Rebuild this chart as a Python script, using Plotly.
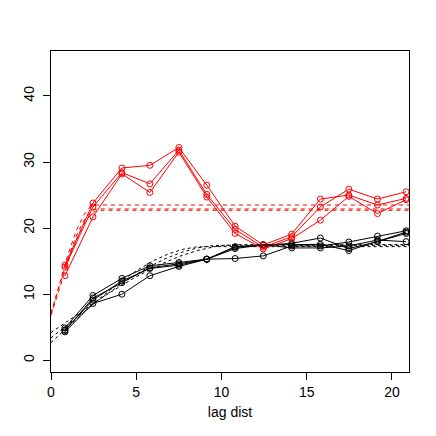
import numpy as np
import plotly.graph_objects as go

# lag distances of the sample variogram bins
lags = [0.82, 2.46, 4.16, 5.8, 7.5, 9.14, 10.8, 12.45, 14.12, 15.8, 17.47, 19.15, 20.83]

# sample semivariances, red group
red_1 = [14.4, 23.8, 29.1, 29.5, 32.2, 26.5, 20.3, 17.45, 19.1, 24.4, 25.0, 23.5, 24.5]
red_2 = [14.1, 23.2, 28.4, 26.7, 31.8, 25.1, 19.8, 17.1, 18.7, 23.2, 25.9, 24.4, 25.5]
red_3 = [12.8, 21.7, 28.2, 25.4, 31.5, 24.7, 19.2, 16.85, 18.4, 21.2, 24.8, 22.2, 24.3]

# sample semivariances, black group
black_1 = [4.3, 8.6, 10.0, 12.8, 14.2, 15.3, 15.4, 15.8, 17.3, 17.3, 17.9, 18.8, 19.6]
black_2 = [4.6, 9.1, 12.0, 13.9, 14.4, 15.3, 17.1, 17.4, 17.7, 18.5, 16.9, 17.95, 19.2]
black_3 = [4.9, 9.8, 12.4, 14.3, 14.8, 15.3, 16.9, 17.5, 17.0, 17.0, 17.3, 18.2, 17.95]
black_4 = [4.5, 9.4, 11.75, 14.0, 14.6, 15.3, 17.2, 17.45, 17.5, 17.55, 16.6, 18.0, 19.4]

# fitted spherical models: nugget, total sill, range
red_models = [(7.0, 23.5, 2.6), (7.2, 22.9, 2.7), (6.8, 22.7, 2.8)]
black_models = [(2.7, 17.2, 9.0), (3.4, 17.4, 10.0), (4.2, 17.5, 11.0)]


def spherical(h, nugget, sill, rng):
    r = np.minimum(h / rng, 1.0)
    return nugget + (sill - nugget) * (1.5 * r - 0.5 * r ** 3)


fig = go.Figure()
h = np.linspace(0, 21, 400)

for ys in [black_1, black_2, black_3, black_4]:
    fig.add_trace(go.Scatter(x=lags, y=ys, mode='lines+markers',
                             line=dict(color='black', width=1),
                             marker=dict(symbol='circle-open', size=6,
                                         color='black', line=dict(width=1))))
for ys in [red_1, red_2, red_3]:
    fig.add_trace(go.Scatter(x=lags, y=ys, mode='lines+markers',
                             line=dict(color='red', width=1),
                             marker=dict(symbol='circle-open', size=6,
                                         color='red', line=dict(width=1))))
for nug, sill, rng in black_models:
    fig.add_trace(go.Scatter(x=h, y=spherical(h, nug, sill, rng), mode='lines',
                             line=dict(color='black', width=1, dash='3px,3px')))
for nug, sill, rng in red_models:
    fig.add_trace(go.Scatter(x=h, y=spherical(h, nug, sill, rng), mode='lines',
                             line=dict(color='red', width=1, dash='4px,4px')))

axis_style = dict(showgrid=False, zeroline=False, showline=True, linecolor='black',
                  linewidth=1, mirror=True, ticks='outside', ticklen=7,
                  tickcolor='black', automargin=False,
                  tickfont=dict(size=14, color='black'))
fig.update_xaxes(range=[0, 21.0], tickvals=[0, 5, 10, 15, 20],
                 title=dict(text='lag dist', font=dict(size=14, color='black'), standoff=8),
                 **axis_style)
fig.update_yaxes(range=[-1.77, 46.8], tickvals=[0, 10, 20, 30, 40], tickangle=-90,
                 ticklabelstandoff=3, **axis_style)
# page body keeps its 8px margin, so the figure is 420 wide and sits at (8, 8)
fig.update_layout(width=420, height=420, showlegend=False,
                  margin=dict(l=43, r=19, t=43, b=56),
                  plot_bgcolor='white', paper_bgcolor='white',
                  font=dict(family='Liberation Sans, Arial, sans-serif'))
fig.write_html("out.html")
